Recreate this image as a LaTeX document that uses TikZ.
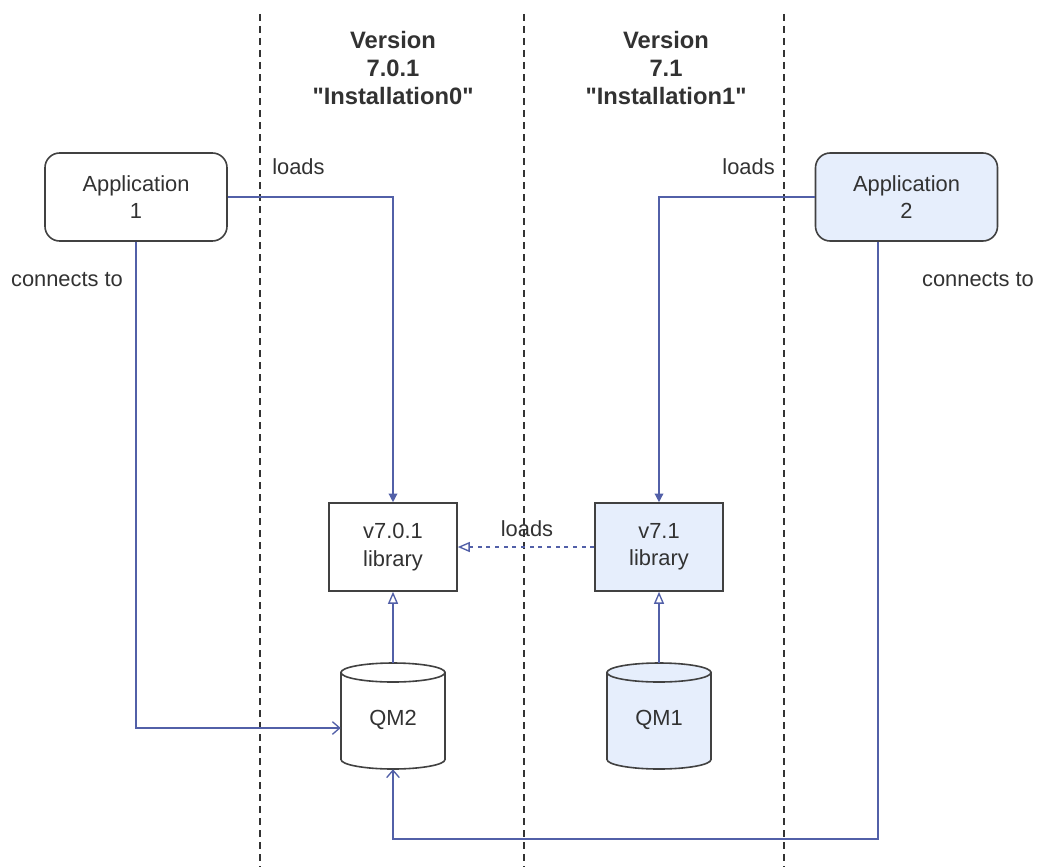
\documentclass[tikz,border=0pt]{standalone}
\usepackage{fontspec}
\setmainfont{Liberation Sans}[Ligatures=TeXOff]
\usetikzlibrary{arrows.meta}
\definecolor{connblue}{RGB}{82,96,168}
\definecolor{boxline}{RGB}{65,65,65}
\definecolor{txt}{RGB}{50,50,50}
\definecolor{lightfill}{RGB}{230,238,252}
\begin{document}
\begin{tikzpicture}[x=0.75pt,y=-0.75pt,
  every node/.style={text=txt, font=\fontsize{16.4}{20.5}\selectfont, inner sep=0pt},
  appbox/.style={draw=boxline, line width=1.2pt, rounded corners=11pt, minimum width=136.5pt, minimum height=66pt, align=center},
  libbox/.style={draw=boxline, line width=1.2pt, minimum width=96pt, minimum height=66pt, align=center},
  qmbox/.style={minimum width=78pt, minimum height=79.5pt},
  cylline/.style={draw=boxline, line width=1.2pt},
  header/.style={font=\fontsize{17.8}{21}\selectfont\bfseries, align=center},
  lbl/.style={},
  divider/.style={draw=black!80, line width=1.1pt, dash pattern=on 5.5pt off 3.5pt},
  loadsarrow/.style={draw=connblue, line width=1pt, -{Triangle[length=6.5pt,width=6.5pt]}},
  deparrow/.style={draw=connblue, line width=1pt, -{Triangle[open,length=9pt,width=7.5pt,fill=white]}},
  dotarrow/.style={draw=connblue, line width=1pt, dash pattern=on 3pt off 3.5pt, -{Triangle[open,length=9pt,width=7.5pt,fill=white]}},
  connarrow/.style={draw=connblue, line width=1pt, -{Straight Barb[length=5.5pt,width=9.5pt]}}
]
\useasboundingbox (0,0) rectangle (1037,867);

% dividers
\coordinate (d1t) at (260,14); \coordinate (d1b) at (260,867);
\coordinate (d2t) at (524,14); \coordinate (d2b) at (524,867);
\coordinate (d3t) at (784,14); \coordinate (d3b) at (784,867);
\draw[divider] (d1t) -- (d1b);
\draw[divider] (d2t) -- (d2b);
\draw[divider] (d3t) -- (d3b);

% headers
\node[header] (h1) at (393,68) {Version\\7.0.1\\"Installation0"};
\node[header] (h2) at (666,68) {Version\\7.1\\"Installation1"};

% applications
\node[appbox] (app1) at (136,197) {Application\\1};
\node[appbox, fill=lightfill] (app2) at (906.5,197) {Application\\2};

% libraries
\node[libbox, fill=white] (lib1) at (393,547) {v7.0.1\\library};
\node[libbox, fill=lightfill] (lib2) at (659,547) {v7.1\\library};

% queue managers (cylinders)
\node[qmbox] (qm2) at (393,716) {};
\node[qmbox] (qm1) at (659,716) {};
\path[cylline, fill=white] (341,672.5) -- (341,759.5)
  .. controls (341,764.7) and (364.3,769) .. (393,769)
  .. controls (421.7,769) and (445,764.7) .. (445,759.5) -- (445,672.5) -- cycle;
\path[cylline, fill=white] (393,672.5) ellipse [x radius=52, y radius=9.5];
\path[cylline, fill=lightfill] (607,672.5) -- (607,759.5)
  .. controls (607,764.7) and (630.3,769) .. (659,769)
  .. controls (687.7,769) and (711,764.7) .. (711,759.5) -- (711,672.5) -- cycle;
\path[cylline, fill=lightfill] (659,672.5) ellipse [x radius=52, y radius=9.5];
\node (qm2t) at (393,720) {QM2};
\node (qm1t) at (659,720) {QM1};

% labels
\node[lbl, anchor=west] (l1) at (272,167) {loads};
\node[lbl, anchor=east] (l2) at (775,167) {loads};
\node[lbl] (l3) at (527,529) {loads};
\node[lbl] (c1) at (67,280) {connects to};
\node[lbl] (c2) at (978,280) {connects to};

% connectors
\draw[loadsarrow] (app1.east) -| (lib1.north);
\draw[loadsarrow] (app2.west) -| (lib2.north);
\draw[dotarrow] (lib2.west) -- (lib1.east);
\draw[deparrow] (qm2.north) -- (lib1.south);
\draw[deparrow] (qm1.north) -- (lib2.south);
\draw[connarrow] (app1.south) |- ([yshift=-9pt]qm2.west);
\coordinate (bend2) at (878,839);
\draw[connarrow] (app2.south -| bend2) -- (bend2) -| (qm2.south);
\end{tikzpicture}
\end{document}
